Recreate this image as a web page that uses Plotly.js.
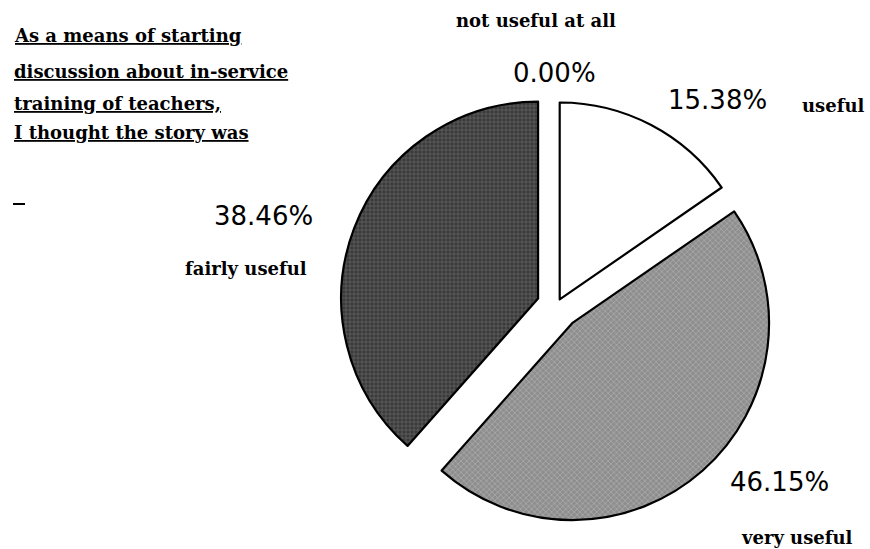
<!DOCTYPE html>
<html>
<head>
<meta charset="utf-8">
<script src="https://cdn.plot.ly/plotly-3.0.1.min.js"></script>
<style>
  html, body { margin: 0; padding: 0; background: #fff; }
  #chart { width: 870px; height: 549px; }
</style>
</head>
<body>
<div id="chart"></div>
<script>
// Survey answers, clockwise from 12 o'clock
const categories = ['not useful at all', 'useful', 'very useful', 'fairly useful'];
const shares = [0.00, 15.38, 46.15, 38.46];
const pulls = [0.04, 0.035, 0.12, 0.10];

const questionLines = [
  'As a means of starting',
  'discussion about in-service',
  'training of teachers,',
  'I thought the story was'
];

const W = 870, H = 549;
const px = x => x / W;
const py = y => 1 - y / H;

const sliceFill = ['#ffffff', '#ffffff', '#8e8e8e', '#3a3a3a'];
const patternShape = ['', '', 'x', '+'];
const patternFg = ['#000000', '#000000', '#d4d4d4', '#9a9a9a'];
// the empty slice gets no outline so no stray edge is drawn
const outlineWidth = [0, 2.2, 2.2, 2.2];

const trace = {
  type: 'pie',
  labels: categories,
  values: shares,
  sort: false,
  direction: 'clockwise',
  rotation: 0,
  pull: pulls,
  textinfo: 'none',
  hoverinfo: 'label+percent',
  showlegend: false,
  domain: { x: [px(336), px(777)], y: [py(527), py(84)] },
  marker: {
    colors: sliceFill,
    line: { color: '#000000', width: outlineWidth },
    pattern: {
      shape: patternShape,
      fgcolor: patternFg,
      size: 4,
      solidity: 0.3,
      fillmode: 'overlay'
    }
  }
};

// label anchors (pixel centres) for category names and percentages
const namePos = [[536, 20], [833, 105], [797, 537], [246, 268]];
const pctPos = [[554, 73], [717, 100], [779, 482], [263, 216]];

const annotations = [];
categories.forEach((c, i) => {
  annotations.push({
    text: c, x: px(namePos[i][0]), y: py(namePos[i][1]),
    xref: 'paper', yref: 'paper', showarrow: false,
    xanchor: 'center', yanchor: 'middle',
    font: { family: 'DejaVu Serif', size: 18, color: '#000', weight: 'bold' }
  });
  annotations.push({
    text: shares[i].toFixed(2) + '%', x: px(pctPos[i][0]), y: py(pctPos[i][1]),
    xref: 'paper', yref: 'paper', showarrow: false,
    xanchor: 'center', yanchor: 'middle',
    font: { family: 'DejaVu Sans', size: 26, color: '#000' }
  });
});

const lineY = [36, 71, 103, 133];
questionLines.forEach((t, i) => {
  annotations.push({
    text: '<u>' + t + '</u>', x: px(12), y: py(lineY[i]),
    xref: 'paper', yref: 'paper', showarrow: false,
    xanchor: 'left', yanchor: 'middle',
    font: { family: 'DejaVu Serif', size: 18, color: '#000', weight: 'bold' }
  });
});

const layout = {
  width: W, height: H,
  margin: { l: 0, r: 0, t: 0, b: 0 },
  paper_bgcolor: '#ffffff',
  plot_bgcolor: '#ffffff',
  annotations: annotations,
  shapes: [{
    type: 'line', xref: 'paper', yref: 'paper',
    x0: px(13), x1: px(25), y0: py(204), y1: py(204),
    line: { color: '#000', width: 2 }
  }]
};

Plotly.newPlot('chart', [trace], layout, { displayModeBar: false, staticPlot: true });
</script>
</body>
</html>
